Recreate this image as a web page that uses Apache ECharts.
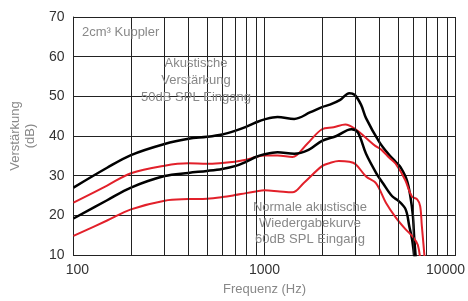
<!DOCTYPE html>
<html>
<head>
<meta charset="utf-8">
<script src="https://cdn.jsdelivr.net/npm/echarts@6/dist/echarts.min.js"></script>
<style>
  html, body { margin: 0; padding: 0; background: #fff; }
  #chart { width: 468px; height: 301px; }
</style>
</head>
<body>
<div id="chart"></div>
<script>
// Akustische Verstärkung, 50dB SPL Eingang (schwarz, oben)
const gainHiFreq = [100, 150, 200, 300, 400, 500, 600, 700, 800, 900, 1000, 1170, 1430, 1740, 2000, 2200, 2490, 2780, 2960, 3200, 3400, 4000, 4500, 4860, 5140, 5560, 5800, 5980, 6080, 6250]
const gainHiDb = [27.0, 32.0, 35.2, 38.0, 39.3, 39.8, 40.4, 41.3, 42.3, 43.4, 44.2, 44.8, 44.3, 46.0, 47.3, 47.9, 49.1, 50.8, 50.4, 47.9, 44.5, 38.4, 35.2, 33.5, 32.2, 28.9, 24.8, 19.9, 14.2, 7]

// rot, oben
const gainLoFreq = [100, 150, 200, 300, 400, 500, 600, 700, 800, 900, 1000, 1170, 1400, 1670, 2000, 2300, 2650, 3000, 3400, 3800, 4100, 4500, 4860, 5450, 5900, 6300, 6530, 6660, 6800, 6950]
const gainLoDb = [23.2, 27.5, 30.6, 32.5, 33.1, 33.0, 33.2, 33.5, 34.0, 34.7, 35.1, 35.1, 34.7, 38.0, 41.7, 42.2, 42.9, 41.7, 39.5, 37.5, 36.5, 34.5, 33.0, 28.9, 24.8, 24.0, 22.3, 17.4, 12.5, 7]

// Normale akustische Wiedergabekurve, 60dB SPL Eingang (schwarz, unten)
const normHiFreq = [100, 150, 200, 300, 400, 500, 600, 700, 800, 900, 1000, 1170, 1430, 1700, 2000, 2380, 2850, 3080, 3400, 3850, 4170, 4660, 5040, 5480, 5720, 5950, 6150]
const normHiDb = [19.2, 23.8, 27.0, 29.9, 30.7, 31.2, 31.7, 32.4, 33.5, 34.7, 35.4, 35.9, 35.5, 36.5, 38.8, 40.0, 41.7, 40.9, 35.5, 30.6, 28.1, 24.8, 23.6, 21.5, 17.4, 13.3, 7]

// rot, unten
const normLoFreq = [100, 150, 200, 300, 400, 500, 600, 700, 800, 900, 1000, 1200, 1400, 1600, 2000, 2200, 2450, 2780, 3000, 3400, 3830, 4320, 4860, 5450, 6000, 6350, 6600]
const normLoDb = [14.8, 18.7, 21.5, 23.7, 24.1, 24.2, 24.6, 25.1, 25.6, 26.0, 26.3, 26.0, 25.8, 28.1, 32.4, 33.2, 33.7, 33.5, 32.9, 29.8, 28.1, 23.2, 19.5, 16.6, 14.5, 12.5, 7]

// Zwischenlinien der log. Achse
const minorFreqs = [200, 300, 400, 500, 600, 700, 800, 900, 2000, 3000, 4000, 5000, 6000, 7000, 8000, 9000]

const zip = (xs, ys) => xs.map((x, i) => [x, ys[i]])

const textColor = '#888'
const gridColor = '#222'
const font = 'Liberation Sans, Arial, sans-serif'

function curve(name, xs, ys, color, width) {
  return {
    name: name,
    type: 'line',
    data: zip(xs, ys),
    showSymbol: false,
    smooth: 0.35,
    clip: true,
    lineStyle: { color: color, width: width },
    z: 3
  }
}

const myChart = echarts.init(document.getElementById('chart'))
myChart.setOption({
  animation: false,
  backgroundColor: '#fff',
  textStyle: { fontFamily: font },
  grid: { left: 72, right: 7, top: 17, bottom: 41 },
  xAxis: {
    type: 'log',
    logBase: 10,
    min: 100,
    max: 10000,
    name: 'Frequenz (Hz)',
    nameLocation: 'middle',
    nameGap: 28,
    nameTextStyle: { color: textColor, fontSize: 13 },
    axisLine: { show: true, lineStyle: { color: gridColor, width: 1 } },
    axisTick: { show: false },
    axisLabel: {
      color: '#333',
      fontSize: 14,
      margin: 8,
      formatter: function (v) {
        if (v === 100) return '{first|100}'
        if (v === 10000) return '{last|10000}'
        return String(v)
      },
      rich: {
        first: { fontSize: 14, color: '#333', padding: [0, 0, 0, 8] },
        last: { fontSize: 14, color: '#333', padding: [0, 20, 0, 0] }
      }
    },
    splitLine: { show: true, lineStyle: { color: gridColor, width: 1 } }
  },
  yAxis: {
    type: 'value',
    min: 10,
    max: 70,
    interval: 10,
    name: 'Verstärkung\n(dB)',
    nameLocation: 'middle',
    nameGap: 31,
    nameRotate: 90,
    nameTextStyle: { color: textColor, fontSize: 13, lineHeight: 15 },
    axisLine: { show: true, lineStyle: { color: gridColor, width: 1 } },
    axisTick: { show: false },
    axisLabel: { color: '#333', fontSize: 14, margin: 9 },
    splitLine: { show: true, lineStyle: { color: gridColor, width: 1 } }
  },
  graphic: [
    { type: 'text', left: 82, top: 26, style: { text: '2cm³ Kuppler', fill: textColor, fontSize: 13, fontFamily: font }, z: 10 },
    { type: 'text', x: 196, y: 55, style: { text: 'Akustische\nVerstärkung\n50dB SPL Eingang', fill: textColor, fontSize: 13, lineHeight: 17, align: 'center', fontFamily: font }, z: 10 },
    { type: 'text', x: 310, y: 199, style: { text: 'Normale akustische\nWiedergabekurve\n60dB SPL Eingang', fill: textColor, fontSize: 13, lineHeight: 16, align: 'center', fontFamily: font }, z: 10 }
  ],
  series: [
    {
      type: 'line',
      data: [],
      silent: true,
      markLine: {
        silent: true,
        symbol: 'none',
        label: { show: false },
        lineStyle: { color: gridColor, width: 1, type: 'solid' },
        data: minorFreqs.map(f => ({ xAxis: f }))
      },
      z: 1
    },
    curve('gainHi', gainHiFreq, gainHiDb, '#000', 2.5),
    curve('gainLo', gainLoFreq, gainLoDb, '#e2202a', 2),
    curve('normHi', normHiFreq, normHiDb, '#000', 2.5),
    curve('normLo', normLoFreq, normLoDb, '#e2202a', 2)
  ]
})
</script>
</body>
</html>
